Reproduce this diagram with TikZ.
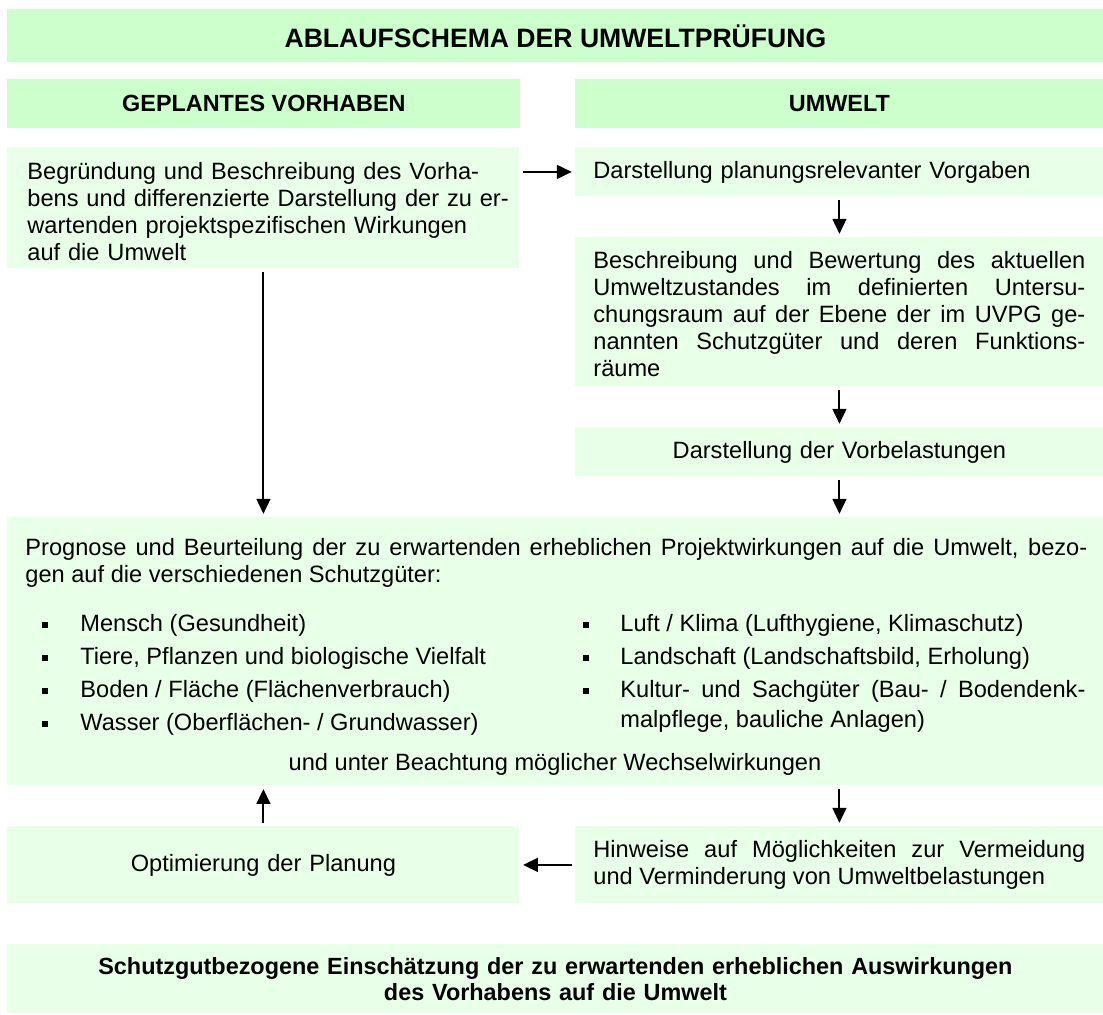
\documentclass[tikz,border=0pt]{standalone}
\usepackage{fontspec}
\setmainfont{Liberation Sans}
\usepackage{tikz}
\usetikzlibrary{positioning,arrows.meta}
\newdimen\px
\px=0.47pt
\definecolor{headGreen}{RGB}{204,255,204}
\definecolor{boxGreen}{RGB}{232,255,232}

\begin{document}
\begin{tikzpicture}[
    x=0.47pt, y=-0.47pt,
    head/.style={%
      fill=headGreen,
      inner sep=0pt,
      anchor=north west,
      font=\fontsize{11pt}{12.7pt}\selectfont\bfseries,
    },
    box/.style={%
      fill=boxGreen,
      inner ysep=0pt,
      inner xsep=18*\px,
      anchor=north west,
      font=\fontsize{11.1pt}{12.7pt}\selectfont,
    },
    txt/.style={%
      inner sep=0pt,
      anchor=base west,
      font=\fontsize{11.1pt}{12.7pt}\selectfont,
    },
    bullet/.style={%
      fill=black,
      inner sep=0pt,
      minimum size=6*\px,
    },
    arr/.style={%
      -{Triangle[length=7pt,width=6.5pt]},
      line width=0.9pt,
      shorten <=1.5pt,
      shorten >=1.5pt,
    },
  ]
    \useasboundingbox (0,0) rectangle (1103,1014);

    % headers
    \node [head, minimum width=1096*\px, minimum height=53*\px,
      font=\fontsize{12.5pt}{15pt}\selectfont\bfseries] (title) at (7,9)
      {ABLAUFSCHEMA DER UMWELTPRÜFUNG};
    \node [head, minimum width=513*\px, minimum height=49*\px] (plan) at (7,79)
      {GEPLANTES VORHABEN};
    \node [head, minimum width=528*\px, minimum height=49*\px] (umwelt) at (575,79)
      {UMWELT};

    % left column
    \node [box, inner sep=0pt, minimum width=512*\px, minimum height=121*\px] (begr) at (7,147) {};
    \node [txt, text width=490*\px, align=left] (begrT) at ([shift={(20,32)}]begr.north west)
      {Begründung und Beschreibung des Vorha-\\
       bens und differenzierte Darstellung der zu er-\\
       wartenden projektspezifischen Wirkungen\\
       auf die Umwelt};

    % right column
    \node [box, text width=492*\px, minimum height=49*\px, align=left] (vorg) at (575,147)
      {Darstellung planungsrelevanter Vorgaben};
    \node [box, inner sep=0pt, minimum width=528*\px, minimum height=149*\px] (beschr) at (575,237) {};
    \node [txt, text width=492*\px, align=justify] (beschrT) at ([shift={(18,31)}]beschr.north west)
      {Beschreibung und Bewertung des aktuellen\linebreak
       Umweltzustandes im definierten Untersu-\linebreak
       chungsraum auf der Ebene der im UVPG ge-\linebreak
       nannten Schutzgüter und deren Funktions-\linebreak
       räume};
    \node [box, text width=492*\px, minimum height=49*\px, align=center] (vorbel) at (575,427)
      {Darstellung der Vorbelastungen};

    % prognosis
    \node [box, inner sep=0pt, minimum width=1096*\px, minimum height=268*\px] (prog) at (7,517) {};
    \node [txt, text width=1062*\px, align=justify] (progT) at (25,555)
      {Prognose und Beurteilung der zu erwartenden erheblichen Projektwirkungen auf die Umwelt, bezo-\linebreak
       gen auf die verschiedenen Schutzgüter:};

    \node [bullet] (b1) at (45,625) {};
    \node [bullet] (b2) at (45,658) {};
    \node [bullet] (b3) at (45,691) {};
    \node [bullet] (b4) at (45,724) {};
    \node [txt] (mensch) at (80,631) {Mensch (Gesundheit)};
    \node [txt] (tiere) at (80,664) {Tiere, Pflanzen und biologische Vielfalt};
    \node [txt] (boden) at (80,697) {Boden / Fläche (Flächenverbrauch)};
    \node [txt] (wasser) at (80,730) {Wasser (Oberflächen- / Grundwasser)};

    \node [bullet] (b5) at (586,625) {};
    \node [bullet] (b6) at (586,658) {};
    \node [bullet] (b7) at (586,691) {};
    \node [txt] (luft) at (620,631) {Luft / Klima (Lufthygiene, Klimaschutz)};
    \node [txt] (landsch) at (620,664) {Landschaft (Landschaftsbild, Erholung)};
    \node [txt, text width=465*\px, align=justify,
      font=\fontsize{11.1pt}{14.4pt}\selectfont] (kultur) at (620,697)
      {Kultur- und Sachgüter (Bau- / Bodendenk-\linebreak
       malpflege, bauliche Anlagen)};

    \node [txt, anchor=base] (wechsel) at (555,770)
      {und unter Beachtung möglicher Wechselwirkungen};

    % loop back
    \node [box, text width=476*\px, minimum height=77*\px, align=center] (opt) at (7,826)
      {Optimierung der Planung};
    \node [box, text width=492*\px, minimum height=77*\px, align=justify] (hinw) at (575,826)
      {Hinweise auf Möglichkeiten zur Vermeidung\linebreak
       und Verminderung von Umweltbelastungen};

    % result
    \node [box, text width=1060*\px, minimum height=69*\px, align=center,
      font=\fontsize{11pt}{12.2pt}\selectfont\bfseries] (summ) at (7,944)
      {Schutzgutbezogene Einschätzung der zu erwartenden erheblichen Auswirkungen\\
       des Vorhabens auf die Umwelt};

    \draw [arr] (begr.east |- vorg.west) -- (vorg.west);
    \draw [arr] (vorg.south) -- (beschr.north);
    \draw [arr] (beschr.south) -- (vorbel.north);
    \draw [arr] (vorbel.south) -- (vorbel.south |- prog.north);
    \draw [arr] (begr.south) -- (begr.south |- prog.north);
    \draw [arr] (opt.north) -- (opt.north |- prog.south);
    \draw [arr] (hinw.north |- prog.south) -- (hinw.north);
    \draw [arr] (hinw.west) -- (opt.east);
\end{tikzpicture}
\end{document}
